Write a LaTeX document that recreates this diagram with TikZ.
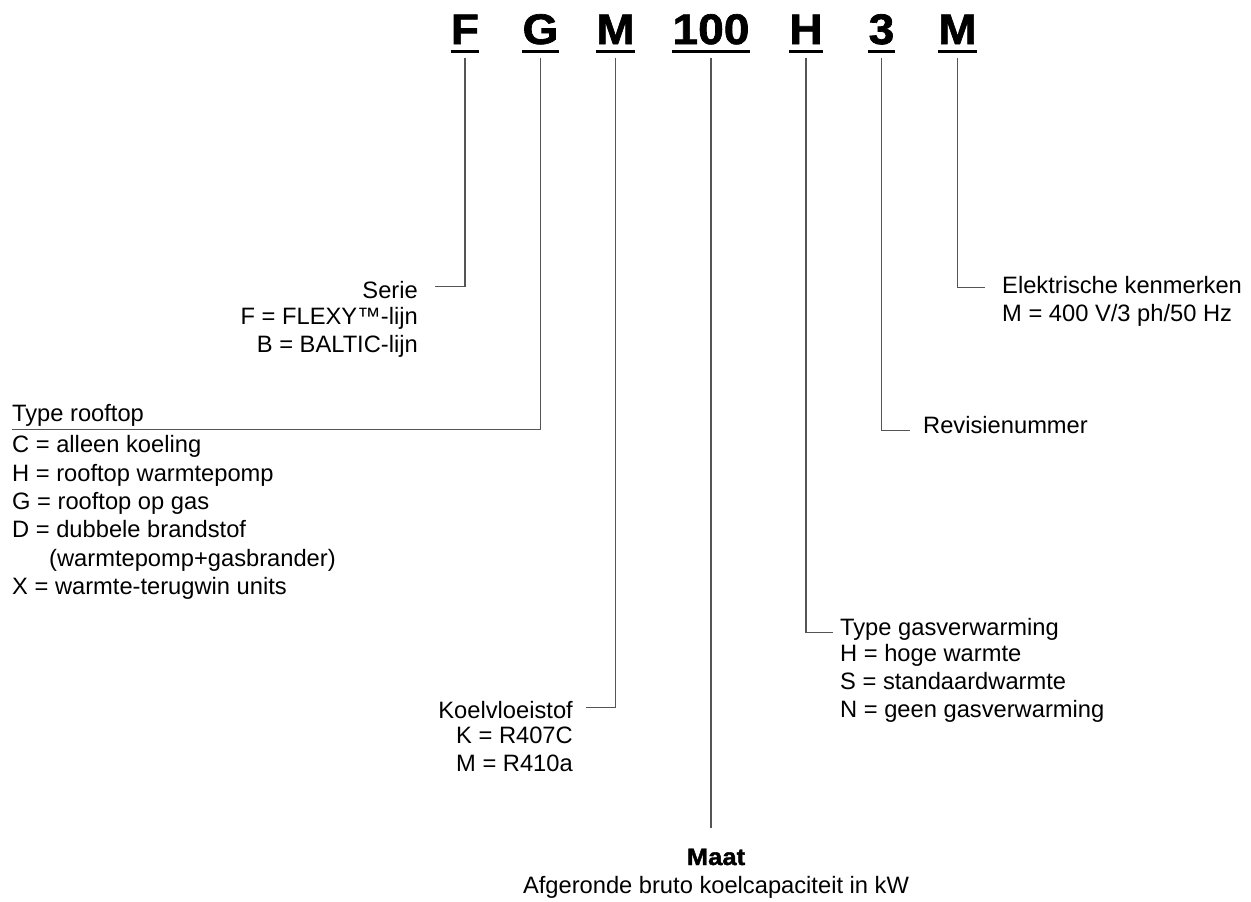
\documentclass[tikz,border=0pt]{standalone}
\usepackage{fontspec}
\setmainfont{Liberation Sans}
\newfontfamily\blackfont{Liberation Sans}[BoldFeatures={FakeBold=1.6,FakeStretch=1.08}]
\usetikzlibrary{positioning}
\definecolor{leadgray}{RGB}{85,85,85}
\tikzset{
  code/.style={font=\blackfont\bfseries\fontsize{42.7}{42.7}\selectfont,anchor=base,inner xsep=0pt,inner ysep=7pt,text depth=0pt},
  lbl/.style={font=\fontsize{23.7}{28.4}\selectfont,inner sep=0pt,execute at begin node=\strut},
  lead/.style={draw=leadgray,line width=1.2pt,shorten <=6.5pt}
}
\begin{document}
\begin{tikzpicture}[x=1pt,y=-1pt]
\useasboundingbox (0,0) rectangle (1251,902);
% type code
\node[code](cF) at (465,44){F};
\node[code](cG) at (540.5,44){G};
\node[code](cR) at (615.5,44){M};
\node[code](cSize) at (711,44){100};
\node[code](cHeat) at (806,44){H};
\node[code](cRev) at (881.5,44){3};
\node[code](cElec) at (957.5,44){M};
\foreach \c in {cF,cG,cR,cSize,cHeat,cRev,cElec}
  \draw[line width=3pt](\c.south west)--(\c.south east);

% left side
\node[lbl,anchor=base east](serie) at (418,298){Serie};
\node[lbl,align=right,below left=0pt of serie.south east](serieL){F = FLEXY™-lijn\\B = BALTIC-lijn};
\node[lbl,anchor=base west](rooftop) at (12,421){Type rooftop};
\node[lbl,align=left,below right=5.6pt and 0pt of rooftop.south west](rooftopL){C = alleen koeling\\H = rooftop warmtepomp\\G = rooftop op gas\\D = dubbele brandstof\\\hspace*{37pt}(warmtepomp+gasbrander)\\X = warmte-terugwin units};
\node[lbl,anchor=base east](koel) at (573,718){Koelvloeistof};
\node[lbl,align=right,below left=0pt of koel.south east](koelL){K = R407C\\M = R410a};

% bottom
\node[lbl,font=\blackfont\bfseries\fontsize{23.7}{28.4}\selectfont,anchor=base](maat) at (716,865){Maat};
\node[lbl,below=0pt of maat](maatL){Afgeronde bruto koelcapaciteit in kW};

% right side
\node[lbl,anchor=base west](gas) at (840,635){Type gasverwarming};
\node[lbl,align=left,below right=0pt of gas.south west](gasL){H = hoge warmte\\S = standaardwarmte\\N = geen gasverwarming};
\node[lbl,anchor=base west](rev) at (923,433){Revisienummer};
\node[lbl,anchor=base west](elec) at (1002,293){Elektrische kenmerken};
\node[lbl,align=left,below right=0pt of elec.south west](elecL){M = 400 V/3 ph/50 Hz};

% leaders
\draw[lead,shorten >=17pt](cF)|-([yshift=6pt]serie.east);
\draw[lead](cG)|-(rooftop.south west);
\draw[lead,shorten >=13pt](cR)|-([yshift=5pt]koel.east);
\draw[lead,shorten >=17pt](cSize)--(cSize|-maat.north);
\draw[lead,shorten >=7pt](cHeat)|-([yshift=-3pt]gas.west);
\draw[lead,shorten >=13pt](cRev)|-([yshift=-3pt]rev.west);
\draw[lead,shorten >=17pt](cElec)|-(elec.west);
\end{tikzpicture}
\end{document}
